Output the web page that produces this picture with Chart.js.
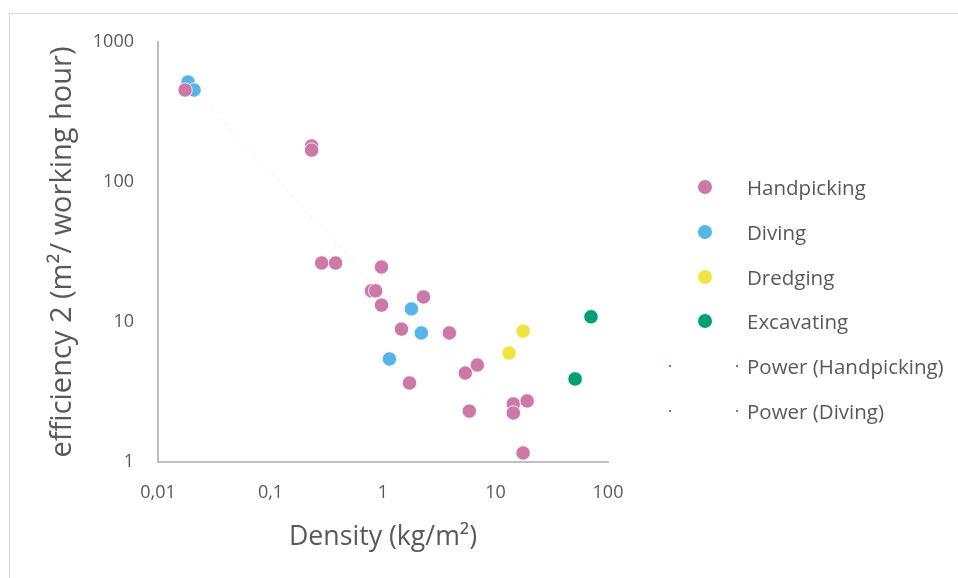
<!DOCTYPE html>
<html>
<head>
<meta charset="utf-8">
<script src="https://cdn.jsdelivr.net/npm/chart.js@4.4.1/dist/chart.umd.min.js"></script>
<style>
  html, body { margin: 0; padding: 0; background: #fff; }
  body { width: 958px; height: 578px; position: relative; overflow: hidden; font-family: "Open Sans", sans-serif; }
  .frame { position: absolute; left: 9px; top: 13px; width: 1000px; height: 600px; border: 1.5px solid #d9d9d9; box-sizing: border-box; }
  #wrap { position: absolute; left: 0; top: 0; width: 958px; height: 578px; }
  .legend { position: absolute; left: 0; top: 0; }
  .legend .item { position: absolute; left: 660px; height: 30px; width: 298px; color: #595959; font-size: 20.5px; }
  .legend .item span.txt { position: absolute; left: 87px; top: 50%; transform: translateY(-50%); white-space: nowrap; }
  .legend .dot { position: absolute; left: 38px; top: 8px; width: 14px; height: 14px; border-radius: 50%; }
  .legend .tiny { position: absolute; top: 14px; width: 2px; height: 2px; border-radius: 50%; }
</style>
</head>
<body>
<div class="frame"></div>
<div id="wrap"><canvas id="myChart" width="958" height="578"></canvas></div>
<div class="legend" id="legend"></div>
<script>
const seriesNames = ["Handpicking", "Diving", "Dredging", "Excavating"];
const seriesColors = ["#CC79A7", "#56B4E9", "#F0E442", "#009E73"];

const handpickingX = [0.0174, 0.232, 0.232, 0.285, 0.379, 0.97, 0.79, 0.86, 0.97, 2.29, 1.46, 3.89, 1.72, 5.39, 6.89, 5.85, 14.4, 14.4, 19.1, 17.6];
const handpickingY = [454, 181, 169, 26.4, 26.4, 24.7, 16.7, 16.7, 13.2, 15.1, 8.9, 8.35, 3.67, 4.32, 4.93, 2.31, 2.6, 2.24, 2.73, 1.16];

const divingX = [0.0185, 0.0209, 1.79, 2.19, 1.14];
const divingY = [518, 454, 12.4, 8.35, 5.44];

const dredgingX = [17.6, 13.2];
const dredgingY = [8.6, 6.0];

const excavatingX = [70.6, 51];
const excavatingY = [10.9, 3.92];

// trendline ends
const powerHandX = [0.0174, 19.1];
const powerHandY = [501, 1.41];
const powerDivX = [0.0185, 2.19];
const powerDivY = [525, 7.7];

const xTicks = [0.01, 0.1, 1, 10, 100];
const xTickLabels = ["0,01", "0,1", "1", "10", "100"];
const yTicks = [1, 10, 100, 1000];
const yTickLabels = ["1", "10", "100", "1000"];

const toPoints = (xs, ys) => xs.map((x, i) => ({ x: x, y: ys[i] }));

const scatterSet = (name, color, xs, ys) => ({
  type: "scatter",
  label: name,
  data: toPoints(xs, ys),
  backgroundColor: color,
  borderColor: "#ffffff",
  borderWidth: 0.8,
  pointRadius: 7.2,
  pointHoverRadius: 7.2,
});

const trendSet = (name, xs, ys) => ({
  type: "line",
  label: name,
  data: toPoints(xs, ys),
  borderColor: "rgba(0,0,0,0.022)",
  borderWidth: 2,
  borderDash: [2, 5],
  pointRadius: 0,
  fill: false,
});

const datasets = [
  scatterSet(seriesNames[0], seriesColors[0], handpickingX, handpickingY),
  scatterSet(seriesNames[1], seriesColors[1], divingX, divingY),
  scatterSet(seriesNames[2], seriesColors[2], dredgingX, dredgingY),
  scatterSet(seriesNames[3], seriesColors[3], excavatingX, excavatingY),
  trendSet("Power (Handpicking)", powerHandX, powerHandY),
  trendSet("Power (Diving)", powerDivX, powerDivY),
];

const tickFont = { family: "'Open Sans', sans-serif", size: 18 };

const ctx = document.getElementById("myChart").getContext("2d");
const myChart = new Chart(ctx, {
  data: { datasets: datasets },
  options: {
    responsive: false,
    animation: false,
    layout: { padding: { left: 0, top: 42, right: 350, bottom: 0 } },
    plugins: { legend: { display: false }, tooltip: { enabled: false } },
    scales: {
      x: {
        type: "logarithmic",
        min: 0.01,
        max: 100,
        afterBuildTicks: (axis) => { axis.ticks = xTicks.map((v) => ({ value: v })); },
        afterFit: (axis) => { axis.height = 116; },
        ticks: {
          color: "#595959",
          font: tickFont,
          padding: 20,
          autoSkip: false,
          maxRotation: 0,
          callback: (v) => xTickLabels[xTicks.indexOf(v)],
        },
        grid: { drawOnChartArea: false, drawTicks: false },
        border: { color: "#bfbfbf", width: 2 },
        title: {
          display: true,
          text: "Density (kg/m²)",
          color: "#595959",
          font: { family: "'Open Sans', sans-serif", size: 26.7 },
          padding: { top: 0, bottom: 25 },
        },
      },
      y: {
        type: "logarithmic",
        min: 1,
        max: 1000,
        afterBuildTicks: (axis) => { axis.ticks = yTicks.map((v) => ({ value: v })); },
        afterFit: (axis) => { axis.width = 158; },
        ticks: {
          color: "#595959",
          font: tickFont,
          padding: 24,
          autoSkip: false,
          callback: (v) => yTickLabels[yTicks.indexOf(v)],
        },
        grid: { drawOnChartArea: false, drawTicks: false },
        border: { color: "#bfbfbf", width: 2 },
        title: {
          display: true,
          text: "efficiency 2 (m²/ working hour)",
          color: "#595959",
          font: { family: "'Open Sans', sans-serif", size: 29 },
          padding: { top: 45, bottom: 0 },
        },
      },
    },
  },
});

// legend, built from the datasets
const legendEl = document.getElementById("legend");
const tinyColors = ["#c000c0", "#1f5f8f"];
myChart.data.datasets.forEach((ds, i) => {
  const item = document.createElement("div");
  item.className = "item";
  item.style.top = (172 + i * 44.8) + "px";
  if (ds.type === "scatter") {
    const dot = document.createElement("div");
    dot.className = "dot";
    dot.style.background = ds.backgroundColor;
    item.appendChild(dot);
  } else {
    [9, 76].forEach((left) => {
      const t = document.createElement("div");
      t.className = "tiny";
      t.style.left = left + "px";
      t.style.background = tinyColors[i - 4];
      item.appendChild(t);
    });
  }
  const txt = document.createElement("span");
  txt.className = "txt";
  txt.textContent = ds.label;
  item.appendChild(txt);
  legendEl.appendChild(item);
});
</script>
</body>
</html>
